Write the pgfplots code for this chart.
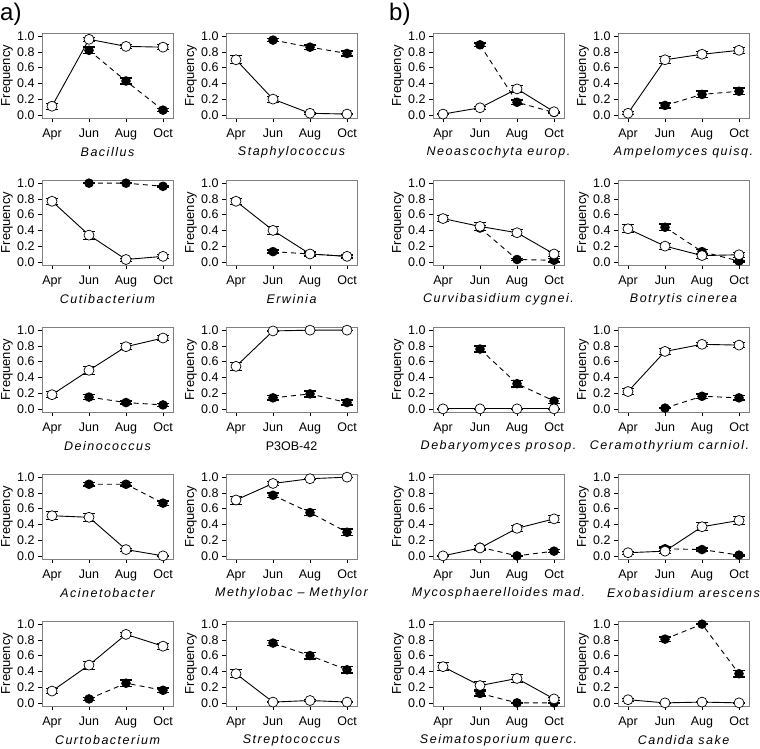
\documentclass[border=0pt]{standalone}
\usepackage{fontspec}
\setmainfont{Liberation Sans}
\newfontfamily\ttlfont[LetterSpace=12]{Liberation Sans}
\usepackage{pgfplots}
\pgfplotsset{compat=1.18}

\pgfplotsset{
  panel/.style={
    scale only axis, width=131pt, height=85pt, anchor=south west,
    xmin=0.73, xmax=4.27, ymin=-0.04, ymax=1.04,
    xtick={1,2,3,4}, xticklabels={Apr,Jun,Aug,Oct},
    ytick={0,0.2,0.4,0.6,0.8,1},
    yticklabel style={/pgf/number format/.cd, fixed, fixed zerofill, precision=1, assume math mode=true},
    xticklabel style={yshift=-3pt},
    axis line style={black!50, line width=0.8pt},
    tick align=outside, major tick length=4pt, tick style={black, line width=0.6pt},
    xtick pos=bottom, ytick pos=left,
    ticklabel style={font=\fontsize{12.5}{13}\selectfont},
    ylabel={Frequency},
    every axis y label/.style={at={(axis description cs:0,0.5)}, xshift=-35pt, rotate=90, anchor=center, font=\fontsize{13}{14}\selectfont},
    every axis x label/.style={at={(axis description cs:0.5,0)}, yshift=-34pt, anchor=center, font=\fontsize{12.5}{13}\selectfont\ttlfont\itshape},
    clip=false,
  },
  blk/.style={black, line width=0.9pt, dash pattern=on 5pt off 4pt, mark=*, mark size=4.3pt,
    mark options={solid, fill=black},
    error bars/.cd, y dir=both, y explicit,
    error bar style={solid, line width=1.5pt},
    error mark options={rotate=90, mark size=6pt, line width=1.5pt}},
  wht/.style={black, line width=0.9pt, solid, mark=*, mark size=5pt,
    mark options={fill=white, line width=0.7pt},
    error bars/.cd, y dir=both, y explicit,
    error bar style={line width=0.8pt},
    error mark options={rotate=90, mark size=6pt, line width=0.8pt}},
}

% #1 x of box, #2 y of box bottom (from top), #3 name, #4 dark series, #5 open series
\newcommand\panel[5]{%
\begin{axis}[panel, at={(#1pt,-#2pt)}, xlabel={#3}]
\addplot[blk] coordinates {#4};
\addplot[wht] coordinates {#5};
\end{axis}}

\begin{document}
\begin{tikzpicture}
\useasboundingbox (0,0) rectangle (760pt,-748pt);
\node[anchor=north west, inner sep=0pt, font=\fontsize{24}{26}\selectfont] at (0pt,-3pt) {a)};
\node[anchor=north west, inner sep=0pt, font=\fontsize{24}{26}\selectfont] at (389pt,-3pt) {b)};

% ---- a) ----
\panel{42}{118}{Bacillus}
  {(2,0.82) +- (0,0.04) (3,0.43) +- (0,0.04) (4,0.06) +- (0,0.02)}
  {(1,0.11) +- (0,0.04) (2,0.96) +- (0,0.03) (3,0.87) +- (0,0.03) (4,0.86) +- (0,0.03)}
\panel{226}{118}{Staphylococcus}
  {(2,0.95) +- (0,0.02) (3,0.86) +- (0,0.03) (4,0.78) +- (0,0.03)}
  {(1,0.70) +- (0,0.05) (2,0.20) +- (0,0.04) (3,0.02) +- (0,0.01) (4,0.01) +- (0,0.005)}
\panel{42}{265}{Cutibacterium}
  {(2,1.00) +- (0,0.003) (3,1.00) +- (0,0.003) (4,0.96) +- (0,0.01)}
  {(1,0.77) +- (0,0.04) (2,0.34) +- (0,0.05) (3,0.03) +- (0,0.02) (4,0.07) +- (0,0.02)}
\panel{226}{265}{Erwinia}
  {(2,0.13) +- (0,0.02) (3,0.10) +- (0,0.02) (4,0.07) +- (0,0.02)}
  {(1,0.77) +- (0,0.04) (2,0.40) +- (0,0.05) (3,0.10) +- (0,0.03) (4,0.07) +- (0,0.03)}
\panel{42}{412}{Deinococcus}
  {(2,0.15) +- (0,0.03) (3,0.08) +- (0,0.02) (4,0.05) +- (0,0.02)}
  {(1,0.18) +- (0,0.04) (2,0.49) +- (0,0.05) (3,0.79) +- (0,0.04) (4,0.90) +- (0,0.03)}
\panel{226}{412}{\normalfont P3OB-42}
  {(2,0.14) +- (0,0.03) (3,0.19) +- (0,0.04) (4,0.08) +- (0,0.03)}
  {(1,0.54) +- (0,0.05) (2,0.99) +- (0,0.005) (3,1.00) +- (0,0.003) (4,1.00) +- (0,0.003)}
\panel{42}{559}{Acinetobacter}
  {(2,0.91) +- (0,0.02) (3,0.91) +- (0,0.02) (4,0.67) +- (0,0.03)}
  {(1,0.51) +- (0,0.05) (2,0.49) +- (0,0.05) (3,0.08) +- (0,0.02) (4,0.00) +- (0,0.003)}
\panel{226}{559}{Methylobac – Methylor}
  {(2,0.77) +- (0,0.03) (3,0.55) +- (0,0.04) (4,0.30) +- (0,0.04)}
  {(1,0.71) +- (0,0.05) (2,0.92) +- (0,0.02) (3,0.98) +- (0,0.01) (4,1.00) +- (0,0.003)}
\panel{42}{706}{Curtobacterium}
  {(2,0.05) +- (0,0.02) (3,0.25) +- (0,0.04) (4,0.16) +- (0,0.03)}
  {(1,0.15) +- (0,0.03) (2,0.48) +- (0,0.05) (3,0.87) +- (0,0.03) (4,0.72) +- (0,0.04)}
\panel{226}{706}{Streptococcus}
  {(2,0.76) +- (0,0.03) (3,0.60) +- (0,0.04) (4,0.42) +- (0,0.04)}
  {(1,0.37) +- (0,0.05) (2,0.01) +- (0,0.005) (3,0.03) +- (0,0.01) (4,0.01) +- (0,0.005)}

% ---- b) ----
\panel{433}{118}{Neoascochyta europ.}
  {(2,0.89) +- (0,0.02) (3,0.16) +- (0,0.03) (4,0.03) +- (0,0.01)}
  {(1,0.01) +- (0,0.005) (2,0.09) +- (0,0.02) (3,0.33) +- (0,0.05) (4,0.04) +- (0,0.01)}
\panel{618}{118}{Ampelomyces quisq.}
  {(2,0.12) +- (0,0.03) (3,0.26) +- (0,0.04) (4,0.30) +- (0,0.04)}
  {(1,0.02) +- (0,0.02) (2,0.70) +- (0,0.04) (3,0.77) +- (0,0.04) (4,0.82) +- (0,0.04)}
\panel{433}{265}{Curvibasidium cygnei.}
  {(2,0.43) +- (0,0.03) (3,0.03) +- (0,0.01) (4,0.02) +- (0,0.02)}
  {(1,0.55) +- (0,0.04) (2,0.45) +- (0,0.05) (3,0.37) +- (0,0.04) (4,0.10) +- (0,0.03)}
\panel{618}{265}{Botrytis cinerea}
  {(2,0.44) +- (0,0.04) (3,0.13) +- (0,0.03) (4,0.01) +- (0,0.01)}
  {(1,0.42) +- (0,0.05) (2,0.20) +- (0,0.04) (3,0.08) +- (0,0.03) (4,0.09) +- (0,0.03)}
\panel{433}{412}{Debaryomyces prosop.}
  {(2,0.76) +- (0,0.04) (3,0.32) +- (0,0.04) (4,0.10) +- (0,0.03)}
  {(1,0.00) +- (0,0.003) (2,0.00) +- (0,0.003) (3,0.00) +- (0,0.003) (4,0.00) +- (0,0.003)}
\panel{618}{412}{\hspace*{-28pt}Ceramothyrium carniol.}
  {(2,0.01) +- (0,0.005) (3,0.16) +- (0,0.03) (4,0.14) +- (0,0.03)}
  {(1,0.22) +- (0,0.04) (2,0.73) +- (0,0.04) (3,0.82) +- (0,0.03) (4,0.81) +- (0,0.03)}
\panel{433}{559}{Mycosphaerelloides mad.}
  {(2,0.11) +- (0,0.02) (3,0.00) +- (0,0.003) (4,0.06) +- (0,0.02)}
  {(1,0.00) +- (0,0.003) (2,0.10) +- (0,0.03) (3,0.35) +- (0,0.04) (4,0.47) +- (0,0.05)}
\panel{618}{559}{Exobasidium arescens}
  {(2,0.09) +- (0,0.02) (3,0.08) +- (0,0.02) (4,0.01) +- (0,0.01)}
  {(1,0.04) +- (0,0.02) (2,0.06) +- (0,0.03) (3,0.37) +- (0,0.05) (4,0.45) +- (0,0.05)}
\panel{433}{706}{Seimatosporium querc.}
  {(2,0.12) +- (0,0.03) (3,0.00) +- (0,0.003) (4,0.00) +- (0,0.003)}
  {(1,0.46) +- (0,0.05) (2,0.22) +- (0,0.05) (3,0.31) +- (0,0.05) (4,0.05) +- (0,0.02)}
\panel{618}{706}{Candida sake}
  {(2,0.81) +- (0,0.03) (3,1.00) +- (0,0.003) (4,0.37) +- (0,0.04)}
  {(1,0.04) +- (0,0.02) (2,0.00) +- (0,0.003) (3,0.01) +- (0,0.005) (4,0.00) +- (0,0.003)}
\end{tikzpicture}
\end{document}
